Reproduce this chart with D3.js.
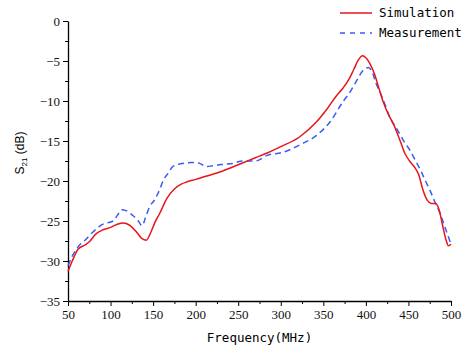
<!DOCTYPE html>
<html>
<head>
<meta charset="utf-8">
<script src="https://cdn.jsdelivr.net/npm/d3@7"></script>
<style>
  body { margin: 0; background: #fff; }
</style>
</head>
<body>
<div id="chart"></div>
<script>
var width = 462,
    height = 350;

// frequency (MHz) and S21 (dB)
var simFreq = [50, 55, 62, 70, 75, 82, 91, 100, 108, 115, 122, 130, 137, 142, 147, 152, 158, 166, 175, 183, 190, 200, 212, 225, 240, 255, 270, 284, 300, 322, 342, 355, 365, 373, 380, 386, 391, 396, 400, 405, 410, 415, 420, 427, 432, 440, 446, 452, 458, 462, 467, 472, 477, 482, 486, 490, 494, 497, 500];
var simS21 = [-31.3, -30.0, -28.5, -28.0, -27.6, -26.7, -26.1, -25.8, -25.4, -25.25, -25.5, -26.3, -27.2, -27.4, -26.5, -25.2, -24.0, -22.2, -21.0, -20.4, -20.1, -19.8, -19.4, -19.0, -18.4, -17.75, -17.1, -16.5, -15.7, -14.5, -12.6, -10.9, -9.4, -8.4, -7.3, -6.0, -4.9, -4.35, -4.6, -5.4, -6.6, -8.3, -10.0, -11.8, -12.8, -14.9, -16.6, -17.6, -18.4, -19.2, -21.1, -22.4, -22.8, -22.8, -23.6, -25.5, -27.3, -28.1, -27.9];

var measFreq = [50, 55, 62, 70, 79, 91, 103, 108, 113, 118, 126, 132, 137, 141, 146, 152, 158, 162, 168, 173, 185, 195, 202, 213, 220, 230, 244, 255, 262, 270, 284, 303, 322, 342, 358, 373, 383, 390, 395, 399, 403, 407, 412, 417, 423, 428, 437, 445, 452, 458, 464, 470, 475, 481, 487, 493, 497, 500];
var measS21 = [-30.6, -29.4, -28.2, -27.4, -26.4, -25.4, -25.0, -24.3, -23.6, -23.7, -24.3, -24.9, -25.6, -24.6, -23.2, -22.3, -21.0, -19.9, -19.0, -18.2, -17.8, -17.7, -17.7, -18.2, -18.1, -17.95, -17.8, -17.5, -17.5, -17.5, -16.8, -16.4, -15.5, -14.3, -12.6, -10.1, -8.6, -7.3, -6.4, -6.0, -5.8, -6.3, -7.8, -9.0, -10.6, -12.0, -13.6, -15.1, -16.2, -17.4, -18.6, -20.0, -21.1, -22.6, -24.0, -25.8, -27.0, -27.9];

var xTicks = [50, 100, 150, 200, 250, 300, 350, 400, 450, 500];
var yTicks = [0, -5, -10, -15, -20, -25, -30, -35];
var seriesNames = ["Simulation", "Measurement"];

var margin = {left: 68, right: 11, top: 21, bottom: 49};

var svg = d3.select("#chart").append("svg")
    .attr("width", width)
    .attr("height", height);

var x = d3.scaleLinear().domain([50, 500]).range([margin.left, width - margin.right]);
var y = d3.scaleLinear().domain([-35, 0]).range([height - margin.bottom, margin.top]);

var tickFont = "'Liberation Serif', 'Times New Roman', Times, 'DejaVu Serif', serif";
var monoFont = "'DejaVu Sans Mono', monospace";

// minor ticks first
svg.append("g")
    .attr("transform", "translate(0," + y(-35) + ")")
    .call(d3.axisBottom(x).tickValues(d3.range(75, 500, 50)).tickSize(3).tickFormat(""))
    .call(g => g.select(".domain").remove());
svg.append("g")
    .attr("transform", "translate(" + x(50) + ",0)")
    .call(d3.axisLeft(y).tickValues(d3.range(-32.5, 0, 5)).tickSize(3).tickFormat(""))
    .call(g => g.select(".domain").remove());

var xAxis = svg.append("g")
    .attr("transform", "translate(0," + y(-35) + ")")
    .call(d3.axisBottom(x).tickValues(xTicks).tickSize(5).tickSizeOuter(0).tickPadding(4));

var yAxis = svg.append("g")
    .attr("transform", "translate(" + x(50) + ",0)")
    .call(d3.axisLeft(y).tickValues(yTicks).tickSize(5).tickSizeOuter(0).tickPadding(3)
      .tickFormat(d => d < 0 ? "\u2212" + Math.abs(d) : d));

xAxis.attr("font-family", tickFont).attr("font-size", 13);
yAxis.attr("font-family", tickFont).attr("font-size", 13);
svg.selectAll(".tick text").attr("fill", "#111");
svg.selectAll(".domain").attr("stroke-width", 1.3);

// axis titles
svg.append("text")
    .attr("x", (x(50) + x(500)) / 2)
    .attr("y", 342)
    .attr("text-anchor", "middle")
    .attr("font-family", monoFont)
    .attr("font-size", 12.5)
    .text("Frequency(MHz)");

var yl = svg.append("text")
    .attr("transform", "translate(24,153) rotate(-90)")
    .attr("text-anchor", "middle")
    .attr("font-family", "'Liberation Sans', Arial, sans-serif")
    .attr("font-size", 12);
yl.append("tspan").text("S");
yl.append("tspan").attr("dy", 3).attr("font-size", 8).text("21");
yl.append("tspan").attr("dy", -3).text(" (dB)");

var line = d3.line()
    .x(d => x(d[0]))
    .y(d => y(d[1]))
    .curve(d3.curveMonotoneX);

svg.append("path")
    .datum(d3.zip(measFreq, measS21))
    .attr("fill", "none")
    .attr("stroke", "#3a5cf5")
    .attr("stroke-width", 1.5)
    .attr("stroke-dasharray", "6,4")
    .attr("d", line);

svg.append("path")
    .datum(d3.zip(simFreq, simS21))
    .attr("fill", "none")
    .attr("stroke", "#e8141b")
    .attr("stroke-width", 1.5)
    .attr("d", line);

// legend
var legend = svg.append("g");
var legendY = [13, 33];
seriesNames.forEach(function(name, i) {
  legend.append("line")
      .attr("x1", 340).attr("x2", 372)
      .attr("y1", legendY[i]).attr("y2", legendY[i])
      .attr("stroke", i == 0 ? "#e8141b" : "#3a5cf5")
      .attr("stroke-width", 1.5)
      .attr("stroke-dasharray", i == 0 ? null : "5,5");
  legend.append("text")
      .attr("x", 379)
      .attr("y", legendY[i] + 4)
      .attr("font-family", monoFont)
      .attr("font-size", 12.5)
      .text(name);
});
</script>
</body>
</html>
